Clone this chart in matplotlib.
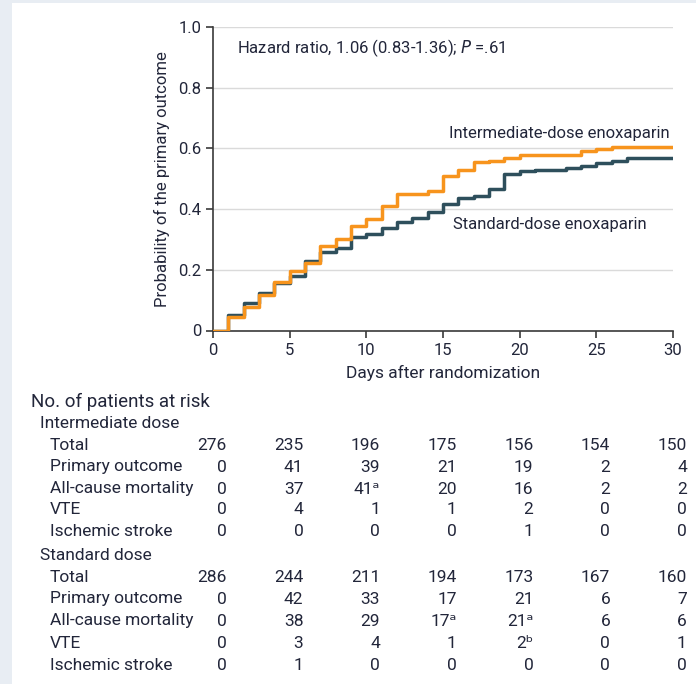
import matplotlib
matplotlib.use('Agg')
import matplotlib.pyplot as plt
import matplotlib.transforms as mtransforms
from matplotlib.patches import Rectangle
import numpy as np

plt.rcParams['font.family'] = ['Roboto', 'DejaVu Sans']
plt.rcParams['mathtext.default'] = 'regular'

# 曲線データ（日ごとの累積確率, 読み取り値）
days = np.arange(0, 31)
intermediate = [0, 0.044, 0.079, 0.117, 0.161, 0.195, 0.222, 0.277, 0.302, 0.343,
                0.367, 0.411, 0.449, 0.449, 0.458, 0.508, 0.530, 0.555, 0.560, 0.568,
                0.579, 0.579, 0.579, 0.579, 0.590, 0.599, 0.606, 0.606, 0.606, 0.606, 0.606]
standard = [0, 0.051, 0.092, 0.125, 0.158, 0.180, 0.230, 0.260, 0.271, 0.308,
            0.317, 0.337, 0.357, 0.372, 0.389, 0.418, 0.436, 0.442, 0.466, 0.515,
            0.524, 0.530, 0.530, 0.535, 0.541, 0.552, 0.559, 0.570, 0.570, 0.570, 0.570]

# リスクテーブル
risk_days = [0, 5, 10, 15, 20, 25, 30]
row_labels = ['Total', 'Primary outcome', 'All-cause mortality', 'VTE', 'Ischemic stroke']
inter_rows = [
    ['276', '235', '196', '175', '156', '154', '150'],
    ['0', '41', '39', '21', '19', '2', '4'],
    ['0', '37', '41\u1d43', '20', '16', '2', '2'],
    ['0', '4', '1', '1', '2', '0', '0'],
    ['0', '0', '0', '0', '1', '0', '0'],
]
std_rows = [
    ['286', '244', '211', '194', '173', '167', '160'],
    ['0', '42', '33', '17', '21', '6', '7'],
    ['0', '38', '29', '17\u1d43', '21\u1d43', '6', '6'],
    ['0', '3', '4', '1', '2\u1d47', '0', '1'],
    ['0', '1', '0', '0', '0', '0', '0'],
]

orange = '#f7941d'
teal = '#2e4f5c'
txt = '#22263a'
bg = '#e8edf3'

W, H = 696, 684
fig = plt.figure(figsize=(W / 100, H / 100), dpi=100)
fig.patch.set_facecolor('white')
# 左と上の淡い背景帯
fig.patches.append(Rectangle((0, 0), 12 / W, 1, transform=fig.transFigure,
                             facecolor=bg, edgecolor='none'))
fig.patches.append(Rectangle((0, 1 - 3 / H), 1, 3 / H, transform=fig.transFigure,
                             facecolor=bg, edgecolor='none'))

ax = fig.add_axes([213 / W, 1 - 330.5 / H, 460 / W, 303.5 / H])
ax.set_zorder(2)
ax.set_facecolor('none')
ax.step(days, standard, where='post', color=teal, lw=2.5, zorder=3)
ax.step(days, intermediate, where='post', color=orange, lw=2.5, zorder=4)

ax.set_xlim(0, 30)
ax.set_ylim(0, 1.0)
ax.set_xticks(range(0, 31, 5))
ax.set_yticks([0, 0.2, 0.4, 0.6, 0.8, 1.0])
ax.set_yticklabels(['0', '0.2', '0.4', '0.6', '0.8', '1.0'])
ax.grid(axis='y', color='#dadada', lw=1)
ax.set_axisbelow(True)
for s in ['top', 'right']:
    ax.spines[s].set_visible(False)
for s in ['left', 'bottom']:
    ax.spines[s].set_color('#3a3a3a')
    ax.spines[s].set_linewidth(1.2)
ax.tick_params(colors='#3a3a3a', labelcolor=txt, labelsize=12, length=5, width=1.2)
ax.tick_params(axis='x', pad=4)
ax.set_xlabel('Days after randomization', fontsize=12.5, color=txt, labelpad=5)
ax.set_ylabel('Probability of the primary outcome', fontsize=12, color=txt, labelpad=6)

ax.text(1.55, 0.93, 'Hazard ratio, 1.06 (0.83-1.36); $\\it{P}$ =.61', fontsize=12,
        color=txt, va='center', ha='left')
ax.text(29.8, 0.648, 'Intermediate-dose enoxaparin', fontsize=12, color=txt,
        va='center', ha='right')
ax.text(15.65, 0.348, 'Standard-dose enoxaparin', fontsize=12, color=txt,
        va='center', ha='left')

# リスクテーブル描画
tr = mtransforms.blended_transform_factory(ax.transData, fig.transFigure)
fs = 12.5
fig.text(31 / W, 1 - 402 / H, 'No. of patients at risk', fontsize=13.5, color=txt, va='center')
fig.text(40 / W, 1 - 423 / H, 'Intermediate dose', fontsize=fs, color=txt, va='center')
fig.text(40 / W, 1 - 555 / H, 'Standard dose', fontsize=fs, color=txt, va='center')

inter_y = [446, 467, 489, 510, 531]
std_y = [577, 599, 621, 643, 665]
for rows, ys in [(inter_rows, inter_y), (std_rows, std_y)]:
    for label, vals, ypx in zip(row_labels, rows, ys):
        yf = 1 - ypx / H
        fig.text(50 / W, yf, label, fontsize=fs, color=txt, va='center')
        for d, v in zip(risk_days, vals):
            ax.text(d + 0.9, yf, v, transform=tr, fontsize=fs, color=txt,
                    va='center', ha='right', clip_on=False)

fig.savefig('out.png', dpi=100, facecolor=fig.get_facecolor())
